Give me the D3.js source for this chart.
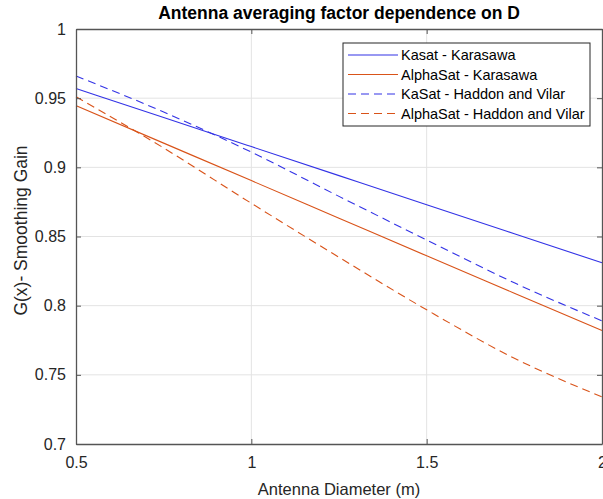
<!DOCTYPE html>
<html>
<head>
<meta charset="utf-8">
<script src="https://cdn.jsdelivr.net/npm/d3@7"></script>
<style>
  html, body { margin: 0; padding: 0; background: #fff; }
  svg { display: block; font-family: "Liberation Sans", Arial, Helvetica, sans-serif; }
</style>
</head>
<body>
<svg id="chart" width="603" height="499"></svg>
<script>
// ---- data ----
const diameters = [0.5, 0.75, 1.0, 1.25, 1.5, 1.75, 2.0];
const kasatKarasawa    = [0.957, 0.936, 0.915, 0.894, 0.873, 0.852, 0.831];
const alphaKarasawa    = [0.9446, 0.9175, 0.8904, 0.8632, 0.836, 0.809, 0.782];
const kasatHaddon      = [0.966, 0.940, 0.911, 0.879, 0.8475, 0.8165, 0.789];
const alphaHaddon      = [0.951, 0.914, 0.874, 0.835, 0.797, 0.762, 0.734];
const seriesNames = ["Kasat - Karasawa", "AlphaSat - Karasawa", "KaSat - Haddon and Vilar", "AlphaSat - Haddon and Vilar"];
const xTicks = [0.5, 1, 1.5, 2];
const xTickLabels = ["0.5", "1", "1.5", "2"];
const yTicks = [0.7, 0.75, 0.8, 0.85, 0.9, 0.95, 1];
const yTickLabels = ["0.7", "0.75", "0.8", "0.85", "0.9", "0.95", "1"];
const titleText = "Antenna averaging factor dependence on D";
const xLabelText = "Antenna Diameter (m)";
const yLabelText = "G(x)- Smoothing Gain";

const seriesValues = [kasatKarasawa, alphaKarasawa, kasatHaddon, alphaHaddon];
const seriesColors = ["#3333e6", "#d95319", "#3333e6", "#d95319"];
const seriesDash = [null, null, "8,5", "8,5"];

// ---- layout ----
const L = 76, R = 602, T = 29, B = 444;
const svg = d3.select("#chart");
const x = d3.scaleLinear().domain([0.5, 2]).range([L, R]);
const y = d3.scaleLinear().domain([0.7, 1]).range([B, T]);
const textColor = "#262626";

// grid
const grid = svg.append("g");
grid.selectAll("line.gx").data(xTicks.slice(1, -1)).enter().append("line")
  .attr("x1", d => x(d)).attr("x2", d => x(d)).attr("y1", T).attr("y2", B)
  .attr("stroke", "#e3e3e3").attr("stroke-width", 1);
grid.selectAll("line.gy").data(yTicks.slice(1, -1)).enter().append("line")
  .attr("x1", L).attr("x2", R).attr("y1", d => y(d)).attr("y2", d => y(d))
  .attr("stroke", "#e3e3e3").attr("stroke-width", 1);

// series
const line = d3.line().x((d, i) => x(diameters[i])).y(d => y(d)).curve(d3.curveMonotoneX);
seriesValues.forEach((vals, k) => {
  svg.append("path").datum(vals)
    .attr("d", line)
    .attr("fill", "none")
    .attr("stroke", seriesColors[k])
    .attr("stroke-width", 1.1)
    .attr("stroke-dasharray", seriesDash[k]);
});

// axes (box with inward ticks)
const axisColor = "#555";
const xAxisB = d3.axisBottom(x).tickValues(xTicks).tickFormat((d, i) => xTickLabels[i]).tickSizeInner(-5).tickSizeOuter(0).tickPadding(13);
const yAxisL = d3.axisLeft(y).tickValues(yTicks).tickFormat((d, i) => yTickLabels[i]).tickSizeInner(-5).tickSizeOuter(0).tickPadding(10);
const gx = svg.append("g").attr("transform", `translate(0,${B})`).call(xAxisB);
const gy = svg.append("g").attr("transform", `translate(${L},0)`).call(yAxisL);
const gxt = svg.append("g").attr("transform", `translate(0,${T})`).call(d3.axisTop(x).tickValues(xTicks).tickFormat("").tickSizeInner(-5).tickSizeOuter(0));
const gyr = svg.append("g").attr("transform", `translate(${R},0)`).call(d3.axisRight(y).tickValues(yTicks).tickFormat("").tickSizeInner(-5).tickSizeOuter(0));
[gx, gy, gxt, gyr].forEach(g => {
  g.select(".domain").attr("stroke", axisColor).attr("stroke-width", 1.3);
  g.selectAll(".tick line").attr("stroke", axisColor);
  g.selectAll(".tick text").attr("fill", textColor).style("font-size", "16px").style("font-family", "'Liberation Sans', Arial, sans-serif");
});
gx.selectAll(".tick text").attr("dy", "0.71em");

// title & labels
svg.append("text").attr("x", (L + R) / 2).attr("y", 19)
  .attr("text-anchor", "middle").attr("fill", "#000")
  .style("font-size", "17.5px").style("font-weight", "bold").text(titleText);
svg.append("text").attr("x", (L + R) / 2).attr("y", 495)
  .attr("text-anchor", "middle").attr("fill", textColor)
  .style("font-size", "16.5px").text(xLabelText);
svg.append("text").attr("transform", `translate(27,${(T + B) / 2 - 6}) rotate(-90)`)
  .attr("text-anchor", "middle").attr("fill", textColor)
  .style("font-size", "17.5px").text(yLabelText);

// legend
const lg = svg.append("g");
const lx = 343, ly = 43, lw = 247, lh = 83;
lg.append("rect").attr("x", lx).attr("y", ly).attr("width", lw).attr("height", lh)
  .attr("fill", "#fff").attr("stroke", "#262626").attr("stroke-width", 1);
seriesNames.forEach((name, k) => {
  const yy = ly + 12 + k * 19.5;
  lg.append("line").attr("x1", lx + 5).attr("x2", lx + 55).attr("y1", yy).attr("y2", yy)
    .attr("stroke", seriesColors[k]).attr("stroke-width", 1.1).attr("stroke-dasharray", seriesDash[k]);
  lg.append("text").attr("x", lx + 58).attr("y", yy).attr("dy", "0.35em")
    .attr("fill", "#000").style("font-size", "14.5px").text(name);
});
</script>
</body>
</html>
